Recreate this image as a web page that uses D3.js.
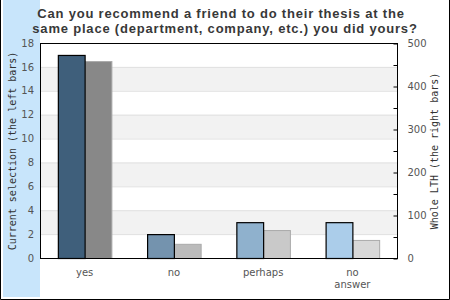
<!DOCTYPE html>
<html><head><meta charset="utf-8">
<script src="https://cdn.jsdelivr.net/npm/d3@7"></script>
<style>body{margin:0;background:#fff}svg{display:block}</style>
</head><body>
<svg id="c" width="450" height="300"></svg>
<script>
const categories = ["yes", "no", "perhaps", "no answer"];
const currentValues = [17, 2, 3, 3];
const lthValues = [458, 33, 65, 42];
const leftTicks = [0, 2, 4, 6, 8, 10, 12, 14, 16, 18];
const rightTicks = [0, 50, 100, 150, 200, 250, 300, 350, 400, 450, 500];
const leftColors = ["#3f5f7b", "#7493ae", "#8fb1cd", "#abcdea"];
const rightColors = ["#888888", "#bbbbbb", "#c9c9c9", "#d8d8d8"];
const titleLines = ["Can you recommend a friend to do their thesis at the", "same place (department, company, etc.) you did yours?"];

const svg = d3.select("#c");
const L = 40, R = 397, T = 43, B = 258;

svg.append("rect").attr("x", 3).attr("y", 0).attr("width", 37).attr("height", 297).attr("fill", "#c8e5fb");

const y = d3.scaleLinear().domain([0, 18]).range([B, T]);
const y2 = d3.scaleLinear().domain([0, 500]).range([B, T]);
const x = d3.scaleBand().domain(categories).range([L, R]).paddingInner(0.4).paddingOuter(0.2);
const x1 = d3.scaleBand().domain([0, 1]).range([0, x.bandwidth()]);

// bands
const g = svg.append("g");
g.append("rect").attr("x", L).attr("y", T).attr("width", R - L).attr("height", B - T).attr("fill", "#fff");
g.selectAll("rect.band").data([2, 6, 10, 14]).join("rect").attr("class", "band")
  .attr("x", L).attr("width", R - L).attr("y", d => y(d + 2)).attr("height", d => y(d) - y(d + 2)).attr("fill", "#f2f2f2");
g.selectAll("line.grid").data(leftTicks.slice(1, -1)).join("line").attr("class", "grid")
  .attr("x1", L).attr("x2", R).attr("y1", d => y(d) + 0.5).attr("y2", d => y(d) + 0.5)
  .attr("stroke", "#e0e0e0").attr("stroke-width", 1);

// bars
const grp = svg.append("g").selectAll("g").data(categories).join("g").attr("transform", d => `translate(${x(d)},0)`);
grp.append("rect").attr("x", (d, i) => x1(1) + 0.5).attr("width", x1.bandwidth())
  .attr("y", (d, i) => y2(lthValues[i]) + 0.5).attr("height", (d, i) => B - y2(lthValues[i]))
  .attr("fill", (d, i) => rightColors[i]).attr("stroke", "#aaaaaa").attr("stroke-width", 1);
grp.append("rect").attr("x", (d, i) => x1(0) + 0.5).attr("width", x1.bandwidth())
  .attr("y", (d, i) => y(currentValues[i]) + 0.5).attr("height", (d, i) => B - y(currentValues[i]))
  .attr("fill", (d, i) => leftColors[i]).attr("stroke", "#000").attr("stroke-width", 1.2);

// frame
svg.append("rect").attr("x", L + 0.5).attr("y", T + 0.5).attr("width", R - L).attr("height", B - T)
  .attr("fill", "none").attr("stroke", "#000").attr("stroke-width", 1);

// left axis
const ax = svg.append("g").attr("transform", `translate(${L - 1},0)`)
  .call(d3.axisLeft(y).tickValues(leftTicks).tickSize(0).tickPadding(5));
ax.select(".domain").remove();
ax.selectAll("text").attr("font-family", "DejaVu Sans").attr("font-size", 10).attr("fill", "#555");

// right axis
const ax2 = svg.append("g").attr("transform", `translate(${R + 0.5},0)`)
  .call(d3.axisRight(y2).tickValues(rightTicks).tickSize(-4).tickPadding(10).tickFormat(d => d % 100 === 0 ? d : ""));
ax2.select(".domain").remove();
ax2.selectAll("line").attr("stroke", "#000").attr("transform", "translate(0,0.5)");
ax2.selectAll("text").attr("font-family", "DejaVu Sans").attr("font-size", 10).attr("fill", "#555");

// category labels
const cl = svg.append("g").selectAll("text").data(categories).join("text")
  .attr("x", d => x(d) + x.bandwidth() / 2).attr("y", 276)
  .attr("text-anchor", "middle").attr("font-family", "DejaVu Sans").attr("font-size", 10).attr("fill", "#555");
cl.each(function (d) {
  const words = d.split(" ");
  const t = d3.select(this);
  words.forEach((w, i) => t.append("tspan").attr("x", x(d) + x.bandwidth() / 2).attr("dy", i === 0 ? 0 : 12).text(w));
});

// axis titles
svg.append("text").attr("transform", "translate(12,151) rotate(-90)").attr("text-anchor", "middle")
  .attr("dominant-baseline", "central").attr("font-family", "DejaVu Sans Mono").attr("font-size", 10).attr("fill", "#333")
  .text("Current selection (the left bars)");
svg.append("text").attr("transform", "translate(434,151) rotate(-90)").attr("text-anchor", "middle")
  .attr("dominant-baseline", "central").attr("font-family", "DejaVu Sans Mono").attr("font-size", 10).attr("fill", "#333")
  .text("Whole LTH (the right bars)");

// title
svg.append("g").selectAll("text").data(titleLines).join("text")
  .attr("x", (d, i) => i === 0 ? 221 : 225).attr("y", (d, i) => 18 + i * 15)
  .attr("text-anchor", "middle").attr("font-family", "Liberation Sans").attr("font-weight", "bold")
  .attr("font-size", 13).attr("letter-spacing", 0.8).attr("fill", "#383838").text(d => d);

// outer border
svg.append("path").attr("d", "M0.5,0 V299.5 H449.5 V0").attr("fill", "none").attr("stroke", "#000").attr("stroke-width", 1);
</script>
</body></html>
